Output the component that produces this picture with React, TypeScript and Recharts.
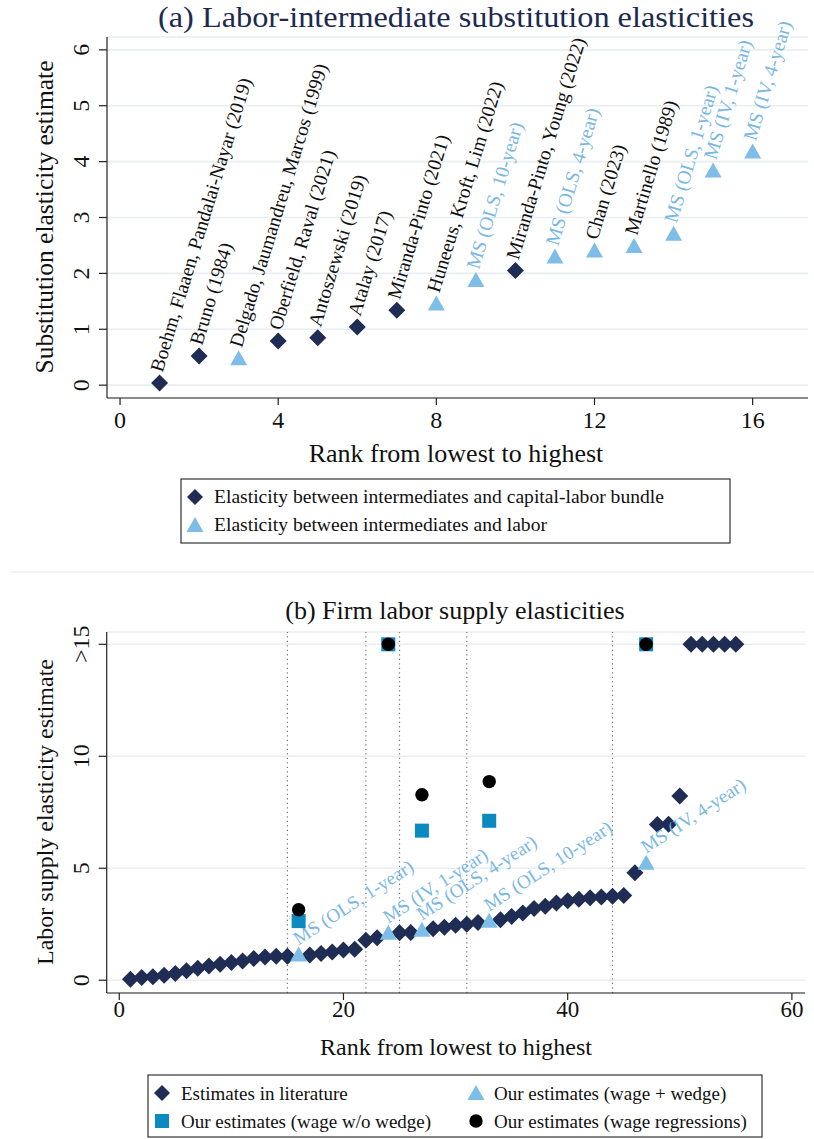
import React from "react";
import {
  ScatterChart,
  Scatter,
  XAxis,
  YAxis,
  CartesianGrid,
  ReferenceLine,
} from "recharts";

// --- Panel (a): labor-intermediate substitution elasticities ---
const aBundleRank = [1, 2, 4, 5, 6, 7, 10];
const aBundleValue = [0.04, 0.52, 0.79, 0.85, 1.04, 1.34, 2.05];
const aBundleLabel = [
  "Boehm, Flaaen, Pandalai-Nayar (2019)",
  "Bruno (1984)",
  "Oberfield, Raval (2021)",
  "Antoszewski (2019)",
  "Atalay (2017)",
  "Miranda-Pinto (2021)",
  "Miranda-Pinto, Young (2022)",
];
const aLaborRank = [3, 8, 9, 11, 12, 13, 14, 15, 16];
const aLaborValue = [0.48, 1.46, 1.88, 2.3, 2.41, 2.49, 2.71, 3.84, 4.18];
const aLaborLabel = [
  "Delgado, Jaumandreu, Marcos (1999)",
  "Huneeus, Kroft, Lim (2022)",
  "MS (OLS, 10-year)",
  "MS (OLS, 4-year)",
  "Chan (2023)",
  "Martinello (1989)",
  "MS (OLS, 1-year)",
  "MS (IV, 1-year)",
  "MS (IV, 4-year)",
];
const aXTicks = [0, 4, 8, 12, 16];
const aYTicks = [0, 1, 2, 3, 4, 5, 6];

// --- Panel (b): firm labor supply elasticities (values above 15 drawn at 15) ---
const bLitRank = [
  1, 2, 3, 4, 5, 6, 7, 8, 9, 10, 11, 12, 13, 14, 15,
  17, 18, 19, 20, 21, 22, 23,
  25, 26,
  28, 29, 30, 31, 32,
  34, 35, 36, 37, 38, 39, 40, 41, 42, 43, 44, 45, 46,
  48, 49, 50, 51, 52, 53, 54, 55,
];
const bLitValue = [
  0.04, 0.12, 0.16, 0.22, 0.3, 0.42, 0.54, 0.64, 0.71, 0.79, 0.86, 0.97, 1.04, 1.07, 1.07,
  1.13, 1.19, 1.26, 1.35, 1.38, 1.78, 1.9,
  2.12, 2.13,
  2.3, 2.37, 2.45, 2.5, 2.58,
  2.7, 2.85, 3.0, 3.2, 3.3, 3.45, 3.55, 3.62, 3.68, 3.72, 3.75, 3.78, 4.8,
  6.95, 6.97, 8.23, 15, 15, 15, 15, 15,
];
const bOurRank = [16, 24, 27, 33, 47];
const bWedgeValue = [1.15, 2.12, 2.25, 2.66, 5.25];
const bWedgeLabel = [
  "MS (OLS, 1-year)",
  "MS (IV, 1-year)",
  "MS (OLS, 4-year)",
  "MS (OLS, 10-year)",
  "MS (IV, 4-year)",
];
const bNoWedgeValue = [2.64, 15, 6.68, 7.12, 15];
const bWageRegValue = [3.15, 15, 8.28, 8.87, 15];
const bCutoffs = [15, 22, 25, 31, 44];
const bXTicks = [0, 20, 40, 60];
const bYTicks = [0, 5, 10, 15];

const FONT = "'Liberation Serif', 'DejaVu Serif', serif";
const NAVY = "#1f2d55";
const LIGHT = "#7ebde8";
const TEAL = "#0a8abf";
const LABEL_BLUE = "#7ab8e4";
const GRID = "#e8eef2";

const toPoints = (xs: number[], ys: number[], labels?: string[]) =>
  xs.map((x, i) => ({ x, y: ys[i], label: labels ? labels[i] : "" }));

// marker shapes
const diamond = (cx: number, cy: number, r = 8.5) =>
  `${cx},${cy - r} ${cx + r},${cy} ${cx},${cy + r} ${cx - r},${cy}`;
const triangle = (cx: number, cy: number) =>
  `${cx},${cy - 8} ${cx + 8.5},${cy + 7} ${cx - 8.5},${cy + 7}`;

function labelColor(label: string) {
  return label.startsWith("MS") ? LABEL_BLUE : "#111";
}

function aShape(kind: "diamond" | "triangle") {
  return (props: any) => {
    const { cx, cy, payload } = props;
    const tx = cx + 3;
    const ty = cy - 10;
    return (
      <g>
        {kind === "diamond" ? (
          <polygon points={diamond(cx, cy)} fill={NAVY} />
        ) : (
          <polygon points={triangle(cx, cy)} fill={LIGHT} />
        )}
        <text
          x={tx}
          y={ty}
          transform={`rotate(-73 ${tx} ${ty})`}
          fontFamily={FONT}
          fontSize={19.5}
          fill={labelColor(payload.label)}
        >
          {payload.label}
        </text>
      </g>
    );
  };
}

function bShape(kind: "diamond" | "triangle" | "square" | "circle") {
  return (props: any) => {
    const { cx, cy, payload } = props;
    if (kind === "diamond") return <polygon points={diamond(cx, cy)} fill={NAVY} />;
    if (kind === "square")
      return <rect x={cx - 7} y={cy - 7} width={14} height={14} fill={TEAL} />;
    if (kind === "circle") return <circle cx={cx} cy={cy} r={6.7} fill="#000" />;
    const tx = cx;
    const ty = cy - 9;
    return (
      <g>
        <polygon points={triangle(cx, cy)} fill={LIGHT} />
        <text
          x={tx}
          y={ty}
          transform={`rotate(-33 ${tx} ${ty})`}
          fontFamily={FONT}
          fontSize={19}
          fill={LABEL_BLUE}
        >
          {payload.label}
        </text>
      </g>
    );
  };
}

const YTick = (props: any) => {
  const { x, y, payload } = props;
  const v = payload.value;
  return (
    <text
      x={x}
      y={y}
      transform={`rotate(-90 ${x} ${y})`}
      textAnchor="middle"
      dominantBaseline="central"
      fontFamily={FONT}
      fontSize={24}
      fill="#111"
    >
      {props.gt && v === 15 ? ">15" : v}
    </text>
  );
};

const XTick = (props: any) => {
  const { x, y, payload, fs } = props;
  return (
    <text x={x} y={y} dy="0.7em" textAnchor="middle" fontFamily={FONT} fontSize={fs} fill="#111">
      {payload.value}
    </text>
  );
};

const axisStyle = { stroke: "#222", strokeWidth: 1.2 };

export default function App() {
  return (
    <div
      style={{
        position: "absolute",
        left: 0,
        top: 0,
        width: 814,
        height: 1139,
        background: "#fff",
        fontFamily: FONT,
      }}
    >
      {/* panel (a) */}
      <div style={{ position: "absolute", left: 0, top: 0 }}>
        <ScatterChart
          width={814}
          height={570}
          margin={{ top: 37, right: 6, left: 47, bottom: 142 }}
        >
          <CartesianGrid vertical={false} stroke={GRID} strokeWidth={1.6} />
          <XAxis
            type="number"
            dataKey="x"
            domain={[-0.33, 17.4]}
            ticks={aXTicks}
            height={30}
            tickSize={7}
            tickMargin={6}
            axisLine={axisStyle}
            tickLine={axisStyle}
            tick={<XTick fs={24} />}
          />
          <YAxis
            type="number"
            dataKey="y"
            domain={[-0.23, 6.23]}
            ticks={aYTicks}
            width={60}
            tickSize={8}
            tickMargin={18}
            axisLine={axisStyle}
            tickLine={axisStyle}
            tick={<YTick />}
          />
          <Scatter
            data={toPoints(aBundleRank, aBundleValue, aBundleLabel)}
            shape={aShape("diamond")}
            isAnimationActive={false}
          />
          <Scatter
            data={toPoints(aLaborRank, aLaborValue, aLaborLabel)}
            shape={aShape("triangle")}
            isAnimationActive={false}
          />
        </ScatterChart>
      </div>

      {/* panel (b) */}
      <div style={{ position: "absolute", left: 0, top: 570 }}>
        <ScatterChart
          width={814}
          height={569}
          margin={{ top: 62, right: 9, left: 46.7, bottom: 116 }}
        >
          <CartesianGrid vertical={false} stroke={GRID} strokeWidth={1.6} />
          {bCutoffs.map((c) => (
            <ReferenceLine key={c} x={c} stroke="#777" strokeWidth={1.2} strokeDasharray="1.2 3.3" />
          ))}
          <XAxis
            type="number"
            dataKey="x"
            domain={[-1.12, 61.17]}
            ticks={bXTicks}
            height={30}
            tickSize={7}
            tickMargin={1}
            axisLine={axisStyle}
            tickLine={axisStyle}
            tick={<XTick fs={23} />}
          />
          <YAxis
            type="number"
            dataKey="y"
            domain={[-0.57, 15.55]}
            ticks={bYTicks}
            width={60}
            tickSize={8}
            tickMargin={18}
            axisLine={axisStyle}
            tickLine={axisStyle}
            tick={<YTick gt />}
          />
          <Scatter
            data={toPoints(bLitRank, bLitValue)}
            shape={bShape("diamond")}
            isAnimationActive={false}
          />
          <Scatter
            data={toPoints(bOurRank, bWedgeValue, bWedgeLabel)}
            shape={bShape("triangle")}
            isAnimationActive={false}
          />
          <Scatter
            data={toPoints(bOurRank, bNoWedgeValue)}
            shape={bShape("square")}
            isAnimationActive={false}
          />
          <Scatter
            data={toPoints(bOurRank, bWageRegValue)}
            shape={bShape("circle")}
            isAnimationActive={false}
          />
        </ScatterChart>
      </div>

      {/* titles, axis titles, legends */}
      <svg
        width={814}
        height={1139}
        style={{ position: "absolute", left: 0, top: 0, pointerEvents: "none" }}
        fontFamily={FONT}
      >
        <text
          x={456}
          y={27}
          textAnchor="middle"
          fontSize={29}
          textLength={596}
          lengthAdjust="spacingAndGlyphs"
          fill="#1d2a50"
        >
          (a) Labor-intermediate substitution elasticities
        </text>
        <text
          x={44}
          y={217}
          transform="rotate(-90 44 217)"
          textAnchor="middle"
          dominantBaseline="central"
          fontSize={25.5}
          fill="#111"
        >
          Substitution elasticity estimate
        </text>
        <text x={456} y={462} textAnchor="middle" fontSize={26} fill="#111">
          Rank from lowest to highest
        </text>

        <rect x={181} y={479} width={549} height={64} fill="#fff" stroke="#333" strokeWidth={1.2} />
        <polygon points={diamond(195, 497, 8)} fill={NAVY} />
        <text x={214} y={503} fontSize={19.6} fill="#111">
          Elasticity between intermediates and capital-labor bundle
        </text>
        <polygon points={triangle(195, 525)} fill={LIGHT} />
        <text x={214} y={531} fontSize={19.6} fill="#111">
          Elasticity between intermediates and labor
        </text>

        <line x1={10} y1={572} x2={814} y2={572} stroke="#e3e7ea" strokeWidth={1.2} />

        <text x={455} y={619} textAnchor="middle" fontSize={26} fill="#111">
          (b) Firm labor supply elasticities
        </text>
        <text
          x={45}
          y={812}
          transform="rotate(-90 45 812)"
          textAnchor="middle"
          dominantBaseline="central"
          fontSize={24}
          fill="#111"
        >
          Labor supply elasticity estimate
        </text>
        <text x={456} y={1055} textAnchor="middle" fontSize={24} fill="#111">
          Rank from lowest to highest
        </text>

        <rect x={148} y={1075} width={614} height={62} fill="#fff" stroke="#333" strokeWidth={1.2} />
        <polygon points={diamond(162, 1093, 8)} fill={NAVY} />
        <text x={181} y={1100} fontSize={19} fill="#111">
          Estimates in literature
        </text>
        <polygon points={triangle(476, 1093)} fill={LIGHT} />
        <text x={494} y={1100} fontSize={19} fill="#111">
          Our estimates (wage + wedge)
        </text>
        <rect x={155} y={1114} width={14} height={14} fill={TEAL} />
        <text x={181} y={1128} fontSize={19} fill="#111">
          Our estimates (wage w/o wedge)
        </text>
        <circle cx={476} cy={1121} r={6.7} fill="#000" />
        <text x={494} y={1128} fontSize={19} fill="#111">
          Our estimates (wage regressions)
        </text>
      </svg>
    </div>
  );
}
